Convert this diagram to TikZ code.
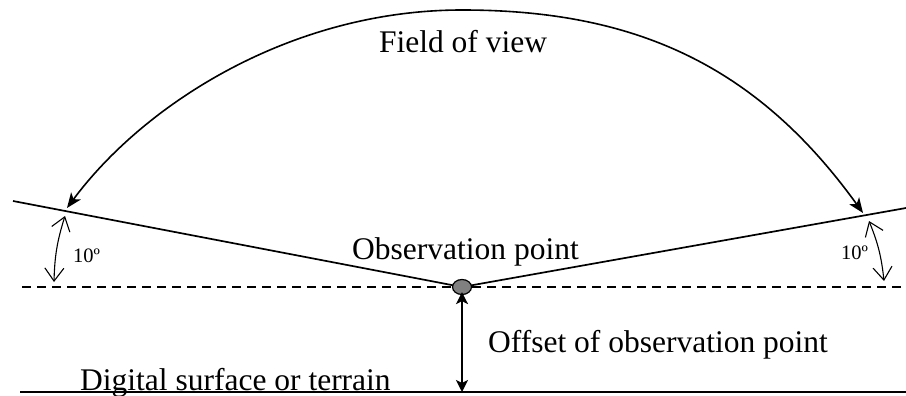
\documentclass[tikz,border=0pt]{standalone}
\usepackage{fontspec}
\setmainfont{Liberation Serif}
\usetikzlibrary{arrows.meta,shapes.geometric}
\begin{document}
\begin{tikzpicture}[x=1pt,y=-1pt,
  solidline/.style={line width=1.7pt},
  dashline/.style={line width=1.7pt, dash pattern=on 9pt off 6pt},
  big/.style={font=\fontsize{31.5}{36}\selectfont, inner sep=0pt},
  small/.style={font=\fontsize{20.5}{24}\selectfont, inner sep=0pt},
  fovtip/.tip={Stealth[length=15pt,width=12pt,inset=4pt]},
  fov/.style={line width=1.6pt, fovtip-fovtip},
  angtip/.tip={Straight Barb[length=13pt,width=19pt]},
  angarrow/.style={line width=1.1pt, angtip-angtip},
  offtip/.tip={Stealth[length=12pt,width=12pt,inset=3pt]},
  offarrow/.style={line width=1.6pt, offtip-offtip},
  obspt/.style={ellipse, draw, line width=1.2pt, fill=gray, minimum width=19pt, minimum height=15pt, inner sep=0pt}
]
\useasboundingbox (0,0) rectangle (906,396);
% key points
\coordinate (O) at (462,287);
\coordinate (Lend) at (13,201);
\coordinate (Rend) at (906,208);
\coordinate (dashL) at (22,287);
\coordinate (dashR) at (906,287);
\coordinate (gndL) at (20,392);
\coordinate (gndR) at (906,392);
\coordinate (gnd) at (462,392);
\coordinate (fovL) at (67,208);
\coordinate (fovT) at (462,10);
\coordinate (fovR) at (863,213);
\coordinate (aL1) at (65,216);
\coordinate (aL2) at (54,282);
\coordinate (aR1) at (869,221);
\coordinate (aR2) at (884,281);
% lines
\draw[dashline] (dashL) -- (dashR);
\draw[solidline] (gndL) -- (gndR);
\draw[solidline] (Lend) -- (O) -- (Rend);
\node[obspt] (obs) at (O) {};
% offset arrow
\draw[offarrow, shorten <=-3pt] (obs.south) -- (gnd);
% field of view arc
\draw[fov] (fovL) .. controls (145,103) and (292,10) .. (fovT)
  .. controls (632,10) and (755,63) .. (fovR);
% angle arrows
\draw[angarrow] (aL1) to[bend right=8] (aL2);
\draw[angarrow] (aR1) to[bend left=8] (aR2);
% labels
\node[big, anchor=base] (fovlabel) at (463,53) {Field of view};
\node[big, anchor=base west] (obslabel) at (352,259) {Observation point};
\node[big, anchor=base west] (offlabel) at (488,352) {Offset of observation point};
\node[big, anchor=base west] (gndlabel) at (80,390) {Digital surface or terrain};
\node[small, anchor=base west] (angL) at (73,262) {10º};
\node[small, anchor=base west] (angR) at (841,259) {10º};
\end{tikzpicture}
\end{document}
